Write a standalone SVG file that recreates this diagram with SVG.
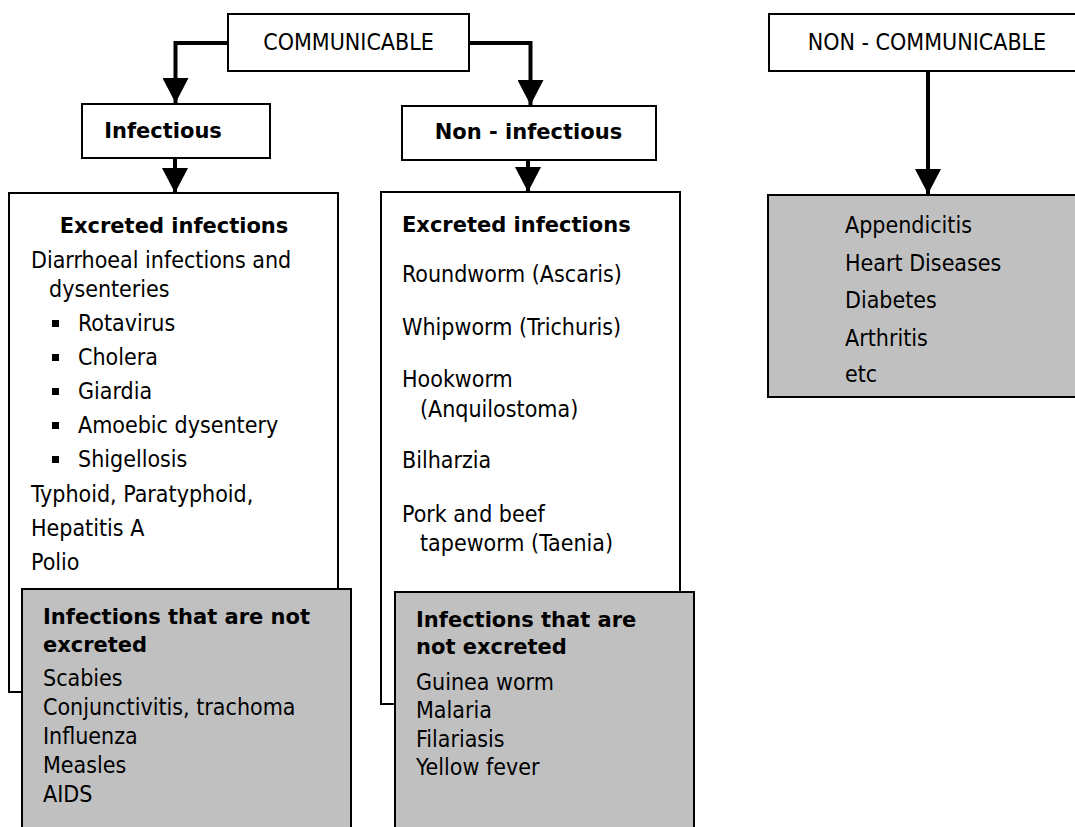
<svg xmlns="http://www.w3.org/2000/svg" width="1075" height="827" viewBox="0 0 1075 827">
  <style>
    .box { fill: #ffffff; stroke: #000000; stroke-width: 2; }
    .shade { fill: #c0c0c0; stroke: #000000; stroke-width: 2; }
    .txt { font-family: "DejaVu Sans Condensed", "DejaVu Sans", sans-serif; font-stretch: condensed; font-size: 23px; fill: #000000; }
    .hd { font-family: "DejaVu Sans", "Liberation Sans", sans-serif; font-weight: bold; font-size: 21px; fill: #000000; }
    .mid { text-anchor: middle; }
    .conn { fill: none; stroke: #000000; stroke-width: 4; }
    .bullet { fill: #000000; }
  </style>
  <defs>
    <marker id="arrow" markerUnits="userSpaceOnUse" markerWidth="26" markerHeight="26" refX="25" refY="13" orient="auto">
      <path d="M0,0 L25,13 L0,26 Z" fill="#000000"/>
    </marker>
  </defs>

  <rect width="1075" height="827" fill="#ffffff"/>

  <!-- connectors -->
  <g id="connectors">
    <path class="conn" d="M228,43 H175.5 V103" marker-end="url(#arrow)"/>
    <path class="conn" d="M469,43 H530.5 V105" marker-end="url(#arrow)"/>
    <path class="conn" d="M175,158 V193" marker-end="url(#arrow)"/>
    <path class="conn" d="M528,160 V192" marker-end="url(#arrow)"/>
    <path class="conn" d="M928,71 V194" marker-end="url(#arrow)"/>
  </g>

  <!-- top level: communicable -->
  <g id="communicable">
    <rect class="box" x="228" y="14" width="241" height="57"/>
    <text class="txt mid" x="348.5" y="50">COMMUNICABLE</text>
  </g>

  <!-- top level: non-communicable -->
  <g id="non-communicable">
    <rect class="box" x="769" y="14" width="320" height="57"/>
    <text class="txt mid" x="927" y="50">NON - COMMUNICABLE</text>
  </g>

  <!-- second level -->
  <g id="infectious">
    <rect class="box" x="82" y="104" width="188" height="54"/>
    <text class="hd mid" x="163" y="138">Infectious</text>
  </g>

  <g id="non-infectious">
    <rect class="box" x="402" y="106" width="254" height="54"/>
    <text class="hd mid" x="528.5" y="139">Non - infectious</text>
  </g>

  <!-- infectious: excreted -->
  <g id="infectious-excreted">
    <rect class="box" x="9" y="193" width="329" height="499"/>
    <text class="hd mid" x="174" y="233">Excreted infections</text>
    <text class="txt" x="31" y="268">Diarrhoeal infections and</text>
    <text class="txt" x="49" y="297">dysenteries</text>
    <rect class="bullet" x="52" y="320" width="7" height="7"/>
    <text class="txt" x="78" y="331">Rotavirus</text>
    <rect class="bullet" x="52" y="354" width="7" height="7"/>
    <text class="txt" x="78" y="365">Cholera</text>
    <rect class="bullet" x="52" y="388" width="7" height="7"/>
    <text class="txt" x="78" y="399">Giardia</text>
    <rect class="bullet" x="52" y="422" width="7" height="7"/>
    <text class="txt" x="78" y="433">Amoebic dysentery</text>
    <rect class="bullet" x="52" y="456" width="7" height="7"/>
    <text class="txt" x="78" y="467">Shigellosis</text>
    <text class="txt" x="31" y="502">Typhoid, Paratyphoid,</text>
    <text class="txt" x="31" y="536">Hepatitis A</text>
    <text class="txt" x="31" y="570">Polio</text>
  </g>

  <!-- infectious: not excreted -->
  <g id="infectious-not-excreted">
    <rect class="shade" x="22" y="589" width="329" height="260"/>
    <text class="hd" x="43" y="624">Infections that are not</text>
    <text class="hd" x="43" y="652">excreted</text>
    <text class="txt" x="43" y="686">Scabies</text>
    <text class="txt" x="43" y="715">Conjunctivitis, trachoma</text>
    <text class="txt" x="43" y="744">Influenza</text>
    <text class="txt" x="43" y="773">Measles</text>
    <text class="txt" x="43" y="802">AIDS</text>
  </g>

  <!-- non-infectious: excreted -->
  <g id="non-infectious-excreted">
    <rect class="box" x="381" y="192" width="299" height="512"/>
    <text class="hd" x="402" y="232">Excreted infections</text>
    <text class="txt" x="402" y="282">Roundworm (Ascaris)</text>
    <text class="txt" x="402" y="335">Whipworm (Trichuris)</text>
    <text class="txt" x="402" y="387">Hookworm</text>
    <text class="txt" x="420" y="417">(Anquilostoma)</text>
    <text class="txt" x="402" y="468">Bilharzia</text>
    <text class="txt" x="402" y="522">Pork and beef</text>
    <text class="txt" x="420" y="551">tapeworm (Taenia)</text>
  </g>

  <!-- non-infectious: not excreted -->
  <g id="non-infectious-not-excreted">
    <rect class="shade" x="395" y="592" width="299" height="260"/>
    <text class="hd" x="416" y="627">Infections that are</text>
    <text class="hd" x="416" y="654">not excreted</text>
    <text class="txt" x="416" y="690">Guinea worm</text>
    <text class="txt" x="416" y="718">Malaria</text>
    <text class="txt" x="416" y="747">Filariasis</text>
    <text class="txt" x="416" y="775">Yellow fever</text>
  </g>

  <!-- non-communicable examples -->
  <g id="non-communicable-examples">
    <rect class="shade" x="768" y="195" width="320" height="202"/>
    <text class="txt" x="845" y="233">Appendicitis</text>
    <text class="txt" x="845" y="271">Heart Diseases</text>
    <text class="txt" x="845" y="308">Diabetes</text>
    <text class="txt" x="845" y="346">Arthritis</text>
    <text class="txt" x="845" y="382">etc</text>
  </g>
</svg>
